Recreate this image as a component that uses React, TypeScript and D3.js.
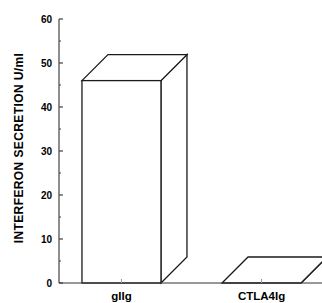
import React, { useEffect, useRef } from "react";
import * as d3 from "d3";

// values
const categories = ["gIIg", "CTLA4Ig"];
const secretion = [46, 0];
const yTicks = [0, 10, 20, 30, 40, 50, 60];
const yMinorTicks = [5, 15, 25, 35, 45, 55];

const width = 322;
const height = 303;
const margin = { top: 19, left: 59, bottom: 20 };
const depth = 26;

function drawChart(el: SVGSVGElement) {
  const svg = d3.select(el);
  svg.selectAll("*").remove();

  const x = d3
    .scaleBand()
    .domain(categories)
    .range([margin.left, 324])
    .paddingInner(0.436)
    .paddingOuter(0.164);

  const y = d3
    .scaleLinear()
    .domain([0, 60])
    .range([height - margin.bottom, margin.top]);

  const font = "'Liberation Sans', Arial, Helvetica, sans-serif";

  // bars drawn as open 3d boxes
  const bars = svg
    .append("g")
    .attr("fill", "#fff")
    .attr("stroke", "#1a1a1a")
    .attr("stroke-width", 1.3)
    .attr("stroke-linejoin", "miter");

  categories.forEach((cat, i) => {
    const x0 = x(cat)!;
    const x1 = x0 + x.bandwidth();
    const yTop = y(secretion[i]);
    const yBase = y(0);

    // right side
    bars
      .append("path")
      .attr(
        "d",
        `M${x1},${yBase}L${x1 + depth},${yBase - depth}L${x1 + depth},${yTop - depth}L${x1},${yTop}Z`
      );
    // top
    bars
      .append("path")
      .attr(
        "d",
        `M${x0},${yTop}L${x0 + depth},${yTop - depth}L${x1 + depth},${yTop - depth}L${x1},${yTop}Z`
      );
    // front
    bars
      .append("rect")
      .attr("x", x0)
      .attr("y", yTop)
      .attr("width", x.bandwidth())
      .attr("height", yBase - yTop);
  });

  // y axis
  const yAxis = svg.append("g").attr("stroke", "#444").attr("stroke-width", 1.2);
  yAxis
    .append("line")
    .attr("x1", margin.left)
    .attr("x2", margin.left)
    .attr("y1", y(60))
    .attr("y2", y(0));
  yAxis
    .selectAll(".major")
    .data(yTicks)
    .enter()
    .append("line")
    .attr("x1", margin.left)
    .attr("x2", margin.left + 4)
    .attr("y1", (d) => y(d))
    .attr("y2", (d) => y(d));
  yAxis
    .selectAll(".minor")
    .data(yMinorTicks)
    .enter()
    .append("line")
    .attr("x1", margin.left)
    .attr("x2", margin.left + 2)
    .attr("y1", (d) => y(d))
    .attr("y2", (d) => y(d));

  svg
    .append("g")
    .selectAll("text")
    .data(yTicks)
    .enter()
    .append("text")
    .attr("x", margin.left - 7)
    .attr("y", (d) => y(d))
    .attr("dy", "0.35em")
    .attr("text-anchor", "end")
    .style("font-family", font)
    .style("font-weight", "bold")
    .style("font-size", "10px")
    .text((d) => d);

  // x axis
  svg
    .append("line")
    .attr("x1", margin.left)
    .attr("x2", width)
    .attr("y1", y(0))
    .attr("y2", y(0))
    .attr("stroke", "#333")
    .attr("stroke-width", 1.2);

  svg
    .append("g")
    .selectAll("line")
    .data(categories)
    .enter()
    .append("line")
    .attr("x1", (d) => x(d)! + x.bandwidth() / 2)
    .attr("x2", (d) => x(d)! + x.bandwidth() / 2)
    .attr("y1", y(0))
    .attr("y2", y(0) - 4)
    .attr("stroke", "#999")
    .attr("stroke-width", 1);

  svg
    .append("g")
    .selectAll("text")
    .data(categories)
    .enter()
    .append("text")
    .attr("x", (d) => x(d)! + x.bandwidth() / 2)
    .attr("y", 300)
    .attr("text-anchor", "middle")
    .style("font-family", font)
    .style("font-weight", "bold")
    .style("font-size", "11.5px")
    .text((d) => d);

  // y axis title
  svg
    .append("text")
    .attr("transform", `translate(23,148) rotate(-90)`)
    .attr("text-anchor", "middle")
    .style("font-family", font)
    .style("font-weight", "bold")
    .style("font-size", "12px")
    .style("letter-spacing", "0.4px")
    .text("INTERFERON SECRETION U/ml");
}

export default function App() {
  const ref = useRef<SVGSVGElement>(null);

  useEffect(() => {
    if (ref.current) drawChart(ref.current);
  }, []);

  return (
    <svg
      ref={ref}
      width={width}
      height={height}
      style={{ position: "absolute", left: 0, top: 0, background: "#fff" }}
    />
  );
}
